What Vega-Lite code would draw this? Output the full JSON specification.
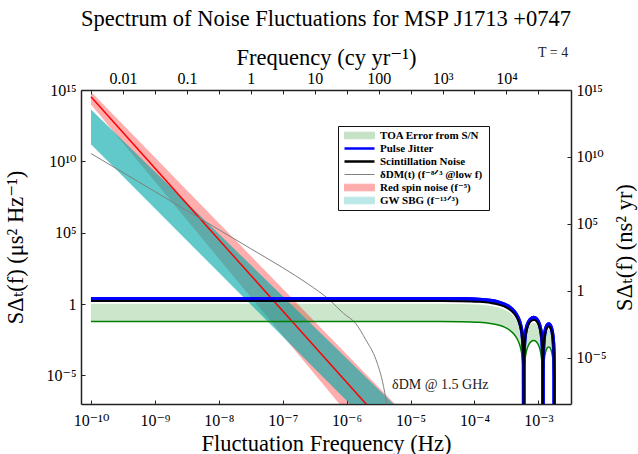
{
 "$schema": "https://vega.github.io/schema/vega-lite/v6.json",
 "width": 490,
 "height": 314,
 "autosize": "none",
 "padding": {"left": 81, "top": 90, "right": 67, "bottom": 50},
 "background": "white",
 "title": {"text": "Spectrum of Noise Fluctuations for MSP J1713 +0747", "font": "'Liberation Serif', 'Times New Roman', 'DejaVu Serif', serif", "fontSize": 22.5, "fontWeight": "normal", "color": "#000", "anchor": "middle", "offset": 15},
 "config": {
  "font": "'Liberation Serif', 'Times New Roman', 'DejaVu Serif', serif",
  "view": {"stroke": null},
  "axis": {"grid": false, "domainColor": "#222", "domainWidth": 1.5, "tickColor": "#222", "tickSize": -4, "tickWidth": 1, "labelFont": "'Liberation Serif', 'Times New Roman', 'DejaVu Serif', serif", "labelFontSize": 16, "labelColor": "#000", "titleFont": "'Liberation Serif', 'Times New Roman', 'DejaVu Serif', serif", "titleFontSize": 22.5, "titleFontWeight": "normal", "titleColor": "#000", "labelOverlap": false, "labelFlush": false}
 },
 "datasets": {
  "white": [
   {"f": 1e-10, "jit": 2.4, "scn": 1.65, "lo": 0.06, "hi": 1.05},
   {"f": 1e-5, "jit": 2.398, "scn": 1.648, "lo": 0.05994, "hi": 1.049},
   {"f": 2.95e-5, "jit": 2.38, "scn": 1.636, "lo": 0.05951, "hi": 1.041},
   {"f": 5.9e-5, "jit": 2.322, "scn": 1.596, "lo": 0.05805, "hi": 1.016},
   {"f": 1.18e-4, "jit": 2.1, "scn": 1.444, "lo": 0.05251, "hi": 0.9189},
   {"f": 1.77e-4, "jit": 1.768, "scn": 1.216, "lo": 0.04421, "hi": 0.7736},
   {"f": 2.36e-4, "jit": 1.375, "scn": 0.9451, "lo": 0.03437, "hi": 0.6014},
   {"f": 2.95e-4, "jit": 0.9727, "scn": 0.6687, "lo": 0.02432, "hi": 0.4256},
   {"f": 3.54e-4, "jit": 0.611, "scn": 0.4201, "lo": 0.01528, "hi": 0.2673},
   {"f": 4.13e-4, "jit": 0.3248, "scn": 0.2233, "lo": 0.00812, "hi": 0.1421},
   {"f": 4.72e-4, "jit": 0.1313, "scn": 0.09026, "lo": 0.003282, "hi": 0.05744},
   {"f": 5.015e-4, "jit": 0.06937, "scn": 0.04769, "lo": 0.001734, "hi": 0.03035},
   {"f": 5.31e-4, "jit": 0.02867, "scn": 0.01971, "lo": 0.0007167, "hi": 0.01254},
   {"f": 5.605e-4, "jit": 0.006594, "scn": 0.004533, "lo": 0.0001648, "hi": 0.002885},
   {"f": 5.782e-4, "jit": 0.0009983, "scn": 0.0006863, "lo": 0.00002496, "hi": 0.0004367},
   {"f": 5.8705e-4, "jit": 0.0000606, "scn": 0.00004166, "lo": 0.000001515, "hi": 0.00002651},
   {"f": 5.9e-4, "jit": 1e-12, "scn": 1e-12, "lo": 1e-12, "hi": 1e-12},
   {"f": 5.9295e-4, "jit": 0.0000594, "scn": 0.00004084, "lo": 0.000001485, "hi": 0.00002599},
   {"f": 6.018e-4, "jit": 0.0009215, "scn": 0.0006335, "lo": 0.00002304, "hi": 0.0004032},
   {"f": 6.195e-4, "jit": 0.005397, "scn": 0.003711, "lo": 0.0001349, "hi": 0.002361},
   {"f": 6.49e-4, "jit": 0.01919, "scn": 0.01319, "lo": 0.0004798, "hi": 0.008396},
   {"f": 7.08e-4, "jit": 0.05834, "scn": 0.04011, "lo": 0.001459, "hi": 0.02553},
   {"f": 7.67e-4, "jit": 0.09418, "scn": 0.06475, "lo": 0.002354, "hi": 0.0412},
   {"f": 8.437e-4, "jit": 0.1133, "scn": 0.07786, "lo": 0.002831, "hi": 0.04955},
   {"f": 8.85e-4, "jit": 0.1081, "scn": 0.0743, "lo": 0.002702, "hi": 0.04728},
   {"f": 9.44e-4, "jit": 0.08592, "scn": 0.05907, "lo": 0.002148, "hi": 0.03759},
   {"f": 1.003e-3, "jit": 0.05507, "scn": 0.03786, "lo": 0.001377, "hi": 0.02409},
   {"f": 1.062e-3, "jit": 0.02593, "scn": 0.01783, "lo": 0.0006482, "hi": 0.01134},
   {"f": 1.121e-3, "jit": 0.006432, "scn": 0.004422, "lo": 0.0001608, "hi": 0.002814},
   {"f": 1.1505e-3, "jit": 0.001565, "scn": 0.001076, "lo": 0.00003912, "hi": 0.0006846},
   {"f": 1.1682e-3, "jit": 0.0002446, "scn": 0.0001681, "lo": 0.000006114, "hi": 0.000107},
   {"f": 1.17705e-3, "jit": 0.00001507, "scn": 0.00001036, "lo": 3.769e-7, "hi": 0.000006595},
   {"f": 1.18e-3, "jit": 1e-12, "scn": 1e-12, "lo": 1e-12, "hi": 1e-12},
   {"f": 1.18295e-3, "jit": 0.00001492, "scn": 0.00001026, "lo": 3.731e-7, "hi": 0.000006529},
   {"f": 1.1918e-3, "jit": 0.000235, "scn": 0.0001615, "lo": 0.000005874, "hi": 0.0001028},
   {"f": 1.2095e-3, "jit": 0.001416, "scn": 0.0009735, "lo": 0.0000354, "hi": 0.0006195},
   {"f": 1.239e-3, "jit": 0.005266, "scn": 0.00362, "lo": 0.0001316, "hi": 0.002304},
   {"f": 1.298e-3, "jit": 0.01736, "scn": 0.01193, "lo": 0.000434, "hi": 0.007594},
   {"f": 1.357e-3, "jit": 0.03009, "scn": 0.02068, "lo": 0.0007522, "hi": 0.01316},
   {"f": 1.416e-3, "jit": 0.03819, "scn": 0.02625, "lo": 0.0009547, "hi": 0.01671},
   {"f": 1.4514e-3, "jit": 0.03955, "scn": 0.02719, "lo": 0.0009888, "hi": 0.0173},
   {"f": 1.475e-3, "jit": 0.03891, "scn": 0.02675, "lo": 0.0009727, "hi": 0.01702},
   {"f": 1.534e-3, "jit": 0.03254, "scn": 0.02237, "lo": 0.0008134, "hi": 0.01423},
   {"f": 1.593e-3, "jit": 0.02183, "scn": 0.01501, "lo": 0.0005458, "hi": 0.009552},
   {"f": 1.652e-3, "jit": 0.01072, "scn": 0.007367, "lo": 0.0002679, "hi": 0.004688},
   {"f": 1.711e-3, "jit": 0.002761, "scn": 0.001898, "lo": 0.00006903, "hi": 0.001208},
   {"f": 1.7405e-3, "jit": 0.0006838, "scn": 0.0004701, "lo": 0.00001709, "hi": 0.0002991},
   {"f": 1.7582e-3, "jit": 0.000108, "scn": 0.00007422, "lo": 0.000002699, "hi": 0.00004723},
   {"f": 1.76705e-3, "jit": 0.000006689, "scn": 0.000004599, "lo": 1.672e-7, "hi": 0.000002926},
   {"f": 1.77e-3, "jit": 1e-12, "scn": 1e-12, "lo": 1e-12, "hi": 1e-12}
  ],
  "band": [
   {"f": 1e-10, "rhi": 7.59e14, "rlo": 9.77e13, "rmid": 3.31e14, "ghi": 4.37e13, "glo": 1.55e11},
   {"f": 1e-5, "rhi": 7.59e-9, "rlo": 9.77e-14, "rmid": 3.31e-11, "ghi": 6.92e-9, "glo": 5.5e-12}
  ],
  "dm": [
   {"f": 1e-10, "S": 3.55e10},
   {"f": 3.162e-9, "S": 3.55e6},
   {"f": 3.162e-8, "S": 7600},
   {"f": 1e-7, "S": 354.8},
   {"f": 2.512e-7, "S": 25.1},
   {"f": 5.37e-7, "S": 2.0},
   {"f": 8.913e-7, "S": 0.224},
   {"f": 1.38e-6, "S": 0.0447},
   {"f": 1.995e-6, "S": 0.00316},
   {"f": 2.884e-6, "S": 0.000126},
   {"f": 3.631e-6, "S": 0.00000398},
   {"f": 4.266e-6, "S": 1e-7},
   {"f": 5.012e-6, "S": 3.16e-9}
  ],
  "notes": [
   {"f": 2.92e-5, "S": 2.3e-6, "label": "δDM @ 1.5 GHz"},
   {"f": 1.7e-3, "S": 4e17, "label": "T = 4"}
  ]
 },
 "layer": [
  {
   "layer": [
    {
     "data": {"name": "white"},
     "mark": {"type": "line", "strokeWidth": 3.5, "interpolate": "monotone", "clip": true},
     "encoding": {
      "x": {"field": "f", "type": "quantitative", "scale": {"type": "log", "domain": [6.98e-11, 3.24e-3], "nice": false},
            "axis": {"orient": "bottom", "title": "Fluctuation Frequency (Hz)", "values": [1e-10, 1e-9, 1e-8, 1e-7, 1e-6, 1e-5, 1e-4, 1e-3],
                     "labelExpr": "['10⁻¹⁰','10⁻⁹','10⁻⁸','10⁻⁷','10⁻⁶','10⁻⁵','10⁻⁴','10⁻³'][round(log(datum.value)/LN10)+10]",
                     "labelPadding": 12, "titlePadding": 4}},
      "y": {"field": "jit", "type": "quantitative", "scale": {"type": "log", "domain": [1e-7, 1e15], "nice": false},
            "axis": {"orient": "left", "title": "SΔₜ(f)  (μs² Hz⁻¹)", "values": [1e-5, 1, 1e5, 1e10, 1e15],
                     "labelExpr": "['10⁻⁵','1','10⁵','10¹⁰','10¹⁵'][round(log(datum.value)/LN10/5)+1]",
                     "labelPadding": 9, "titlePadding": 18}},
      "color": {"datum": "Pulse Jitter", "type": "nominal",
        "scale": {"domain": ["TOA Error from S/N", "Pulse Jitter", "Scintillation Noise", "δDM(t)  (f⁻⁸ᐟ³ @low f)", "Red spin noise  (f⁻⁵)", "GW SBG  (f⁻¹³ᐟ³)"],
                  "range": ["#008000", "#0000ff", "#000000", "#808080", "#ff0000", "#00a8a8"]},
        "legend": {"orient": "none", "legendX": 257, "legendY": 36, "title": null, "strokeColor": "#111", "fillColor": "white", "padding": 4, "cornerRadius": 0,
          "labelFont": "'Liberation Serif', 'Times New Roman', 'DejaVu Serif', serif", "labelFontWeight": "bold", "labelFontSize": 11, "labelColor": "#000", "labelLimit": 220,
          "symbolSize": 36, "labelOffset": 27, "rowPadding": 1,
          "symbolType": {"expr": "datum.value == 'Pulse Jitter' || datum.value == 'Scintillation Noise' || indexof(datum.value, 'DM(t)') >= 0 ? 'M-1,0H9' : 'M-1,-1.1H9V1.1H-1Z'"},
          "symbolStrokeWidth": {"expr": "datum.value == 'Pulse Jitter' || datum.value == 'Scintillation Noise' ? 2.5 : 1"},
          "symbolOpacity": {"expr": "datum.value == 'TOA Error from S/N' ? 0.22 : indexof(datum.value, 'Red') == 0 ? 0.32 : indexof(datum.value, 'GW') == 0 ? 0.26 : 1"}}
      }
     }
    },
    {
     "data": {"name": "white"},
     "mark": {"type": "area", "fillOpacity": 0.2, "clip": true},
     "encoding": {
      "x": {"field": "f", "type": "quantitative"},
      "y": {"field": "hi", "type": "quantitative"},
      "y2": {"field": "lo"},
      "color": {"datum": "TOA Error from S/N", "type": "nominal"}
     }
    },
    {
     "data": {"name": "band"},
     "mark": {"type": "area", "fillOpacity": 0.32, "clip": true},
     "encoding": {
      "x": {"field": "f", "type": "quantitative"},
      "y": {"field": "rhi", "type": "quantitative"},
      "y2": {"field": "rlo"},
      "color": {"datum": "Red spin noise  (f⁻⁵)", "type": "nominal"}
     }
    },
    {
     "data": {"name": "band"},
     "mark": {"type": "area", "fillOpacity": 0.62, "clip": true},
     "encoding": {
      "x": {"field": "f", "type": "quantitative"},
      "y": {"field": "ghi", "type": "quantitative"},
      "y2": {"field": "glo"},
      "color": {"datum": "GW SBG  (f⁻¹³ᐟ³)", "type": "nominal"}
     }
    },
    {
     "data": {"name": "band"},
     "mark": {"type": "line", "strokeWidth": 1.5, "clip": true},
     "encoding": {
      "x": {"field": "f", "type": "quantitative"},
      "y": {"field": "rmid", "type": "quantitative"},
      "color": {"datum": "Red spin noise  (f⁻⁵)", "type": "nominal"}
     }
    },
    {
     "data": {"name": "dm"},
     "mark": {"type": "line", "strokeWidth": 1, "interpolate": "monotone", "clip": true},
     "encoding": {
      "x": {"field": "f", "type": "quantitative"},
      "y": {"field": "S", "type": "quantitative"},
      "color": {"datum": "δDM(t)  (f⁻⁸ᐟ³ @low f)", "type": "nominal"}
     }
    },
    {
     "data": {"name": "white"},
     "mark": {"type": "line", "strokeWidth": 1.5, "interpolate": "monotone", "clip": true},
     "encoding": {
      "x": {"field": "f", "type": "quantitative"},
      "y": {"field": "lo", "type": "quantitative"},
      "color": {"datum": "TOA Error from S/N", "type": "nominal"}
     }
    },
    {
     "data": {"name": "white"},
     "mark": {"type": "line", "strokeWidth": 3.5, "interpolate": "monotone", "clip": true},
     "encoding": {
      "x": {"field": "f", "type": "quantitative"},
      "y": {"field": "jit", "type": "quantitative"},
      "color": {"datum": "Pulse Jitter", "type": "nominal"}
     }
    },
    {
     "data": {"name": "white"},
     "mark": {"type": "line", "strokeWidth": 2, "interpolate": "monotone", "clip": true},
     "encoding": {
      "x": {"field": "f", "type": "quantitative"},
      "y": {"field": "scn", "type": "quantitative"},
      "color": {"datum": "Scintillation Noise", "type": "nominal"}
     }
    },
    {
     "data": {"name": "notes"},
     "mark": {"type": "text", "font": "'Liberation Serif', 'Times New Roman', 'DejaVu Serif', serif", "fontSize": 14, "color": "#222", "align": "center", "baseline": "middle"},
     "encoding": {
      "x": {"field": "f", "type": "quantitative"},
      "y": {"field": "S", "type": "quantitative"},
      "text": {"field": "label"}
     }
    }
   ]
  },
  {
   "data": {"values": [{"cy": 1, "ns": 1}]},
   "mark": {"type": "point", "opacity": 0},
   "encoding": {
    "x": {"field": "cy", "type": "quantitative", "scale": {"type": "log", "domain": [2.203e-3, 1.0225e5], "nice": false},
          "axis": {"orient": "top", "title": "Frequency (cy yr⁻¹)", "values": [0.003156, 0.01, 0.03156, 0.1, 0.3156, 1, 3.156, 10, 31.56, 100, 315.6, 1000, 3156, 10000, 31560],
                   "labelExpr": "abs(log(datum.value)/LN10 - round(log(datum.value)/LN10)) > 0.01 ? '' : ['0.01','0.1','1','10','100','10³','10⁴'][round(log(datum.value)/LN10)+2]",
                   "labelPadding": 8, "titlePadding": 1}},
    "y": {"field": "ns", "type": "quantitative", "scale": {"type": "log", "domain": [3.5e-9, 1e15], "nice": false},
          "axis": {"orient": "right", "title": "SΔₜ(f)  (ns² yr)", "titleAngle": 270, "values": [1e-5, 1, 1e5, 1e10, 1e15],
                   "labelExpr": "['10⁻⁵','1','10⁵','10¹⁰','10¹⁵'][round(log(datum.value)/LN10/5)+1]",
                   "labelPadding": 9, "titlePadding": 30}}
   }
  }
 ],
 "resolve": {"scale": {"x": "independent", "y": "independent"}, "axis": {"x": "independent", "y": "independent"}}
}
